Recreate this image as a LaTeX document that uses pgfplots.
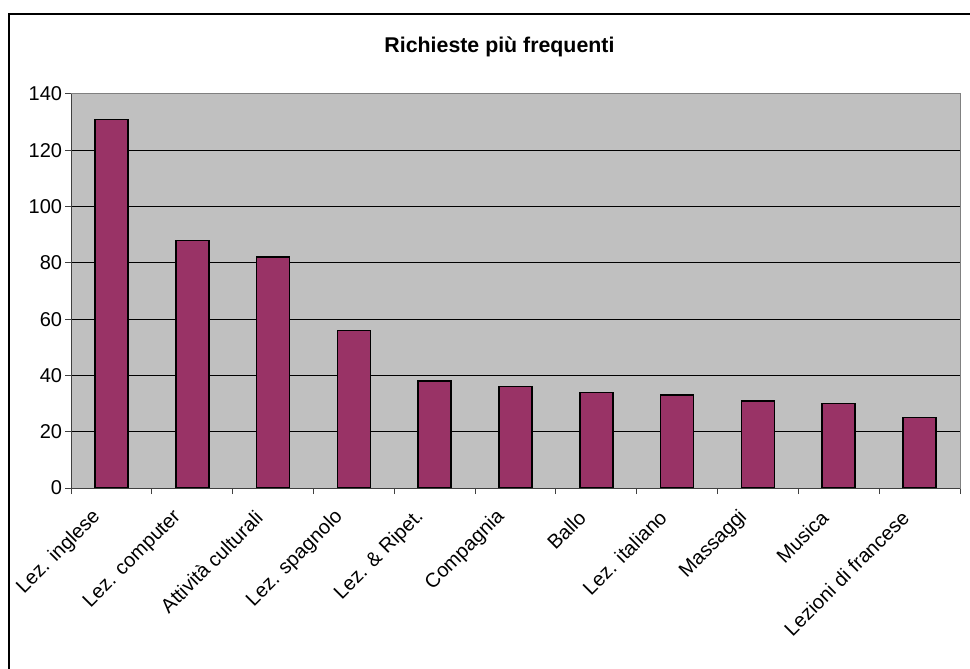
\documentclass[border=0pt]{standalone}
\usepackage{pgfplots}
\pgfplotsset{compat=1.18}
\usepackage{fontspec}
\setmainfont{Liberation Sans}
\definecolor{barcol}{HTML}{993366}
\definecolor{plotbg}{HTML}{C0C0C0}
\begin{document}
\begin{tikzpicture}
\useasboundingbox (0pt,0pt) rectangle (727.5pt,501pt);
\draw[line width=1.5pt] (6.75pt,-5pt) -- (6.75pt,490.5pt) -- (735pt,490.5pt);
\node[font=\fontsize{16}{19}\selectfont\bfseries] at (374.6pt,465.75pt) {Richieste più frequenti};
\begin{axis}[
  at={(53.25pt,135pt)}, anchor=south west,
  scale only axis, width=666.75pt, height=295.5pt,
  xmin=-0.5, xmax=10.5, ymin=0, ymax=140,
  ytick={0,20,...,140},
  xtick={0,...,10},
  xticklabels={Lez. inglese,Lez. computer,Attività culturali,Lez. spagnolo,Lez. \& Ripet.,Compagnia,Ballo,Lez. italiano,Massaggi,Musica,Lezioni di francese},
  minor xtick={-0.5,0.5,...,10.5},
  major x tick style={draw=none},
  minor x tick style={draw=black!75, line width=0.75pt},
  y tick style={draw=black!75, line width=0.75pt},
  minor tick length=4.5pt, major tick length=4.5pt,
  tick align=outside, tick pos=left,
  ymajorgrids, grid style={black, line width=0.75pt},
  axis background/.style={fill=plotbg},
  axis line style={draw=black!50, line width=0.75pt},
  /pgf/number format/assume math mode=true,
  tick label style={font=\fontsize{15}{18}\selectfont},
  yticklabel style={inner sep=2pt},
  xticklabel style={inner sep=0pt, xshift=-10.5pt, yshift=-15pt, rotate=45, anchor=east},
]
\addplot[ybar, bar width=24.75pt, fill=barcol, draw=black, line width=1.2pt] coordinates {
(0,131) (1,88) (2,82) (3,56) (4,38) (5,36) (6,34) (7,33) (8,31) (9,30) (10,25)
};
\draw[black!75, line width=0.75pt] (axis cs:-0.5,0) -- (axis cs:10.5,0);
\draw[black!75, line width=0.75pt] (axis cs:-0.5,0) -- (axis cs:-0.5,140);
\end{axis}
\end{tikzpicture}
\end{document}
